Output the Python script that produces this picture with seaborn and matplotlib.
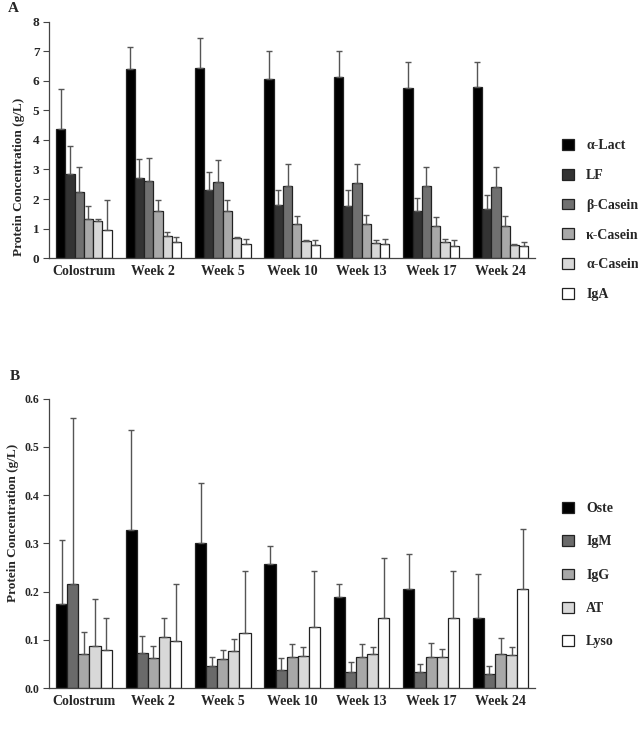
import numpy as np
import pandas as pd
import matplotlib
matplotlib.use("Agg")
import matplotlib.pyplot as plt
import seaborn as sns
from matplotlib.patches import Patch

# ---------------- data ----------------
timepoints = ["Colostrum", "Week 2", "Week 5", "Week 10", "Week 13", "Week 17", "Week 24"]

proteins_a = ["α-Lact", "LF", "β-Casein", "κ-Casein", "α-Casein", "IgA"]
a_lact = [4.38, 6.40, 6.45, 6.05, 6.12, 5.75, 5.78]
a_lact_err = [1.34, 0.75, 1.00, 0.95, 0.88, 0.88, 0.87]
lf = [2.86, 2.72, 2.30, 1.80, 1.78, 1.60, 1.65]
lf_err = [0.94, 0.65, 0.62, 0.52, 0.52, 0.45, 0.50]
b_casein = [2.25, 2.60, 2.58, 2.45, 2.55, 2.45, 2.42]
b_casein_err = [0.85, 0.78, 0.74, 0.72, 0.65, 0.63, 0.68]
k_casein = [1.32, 1.60, 1.60, 1.15, 1.17, 1.07, 1.07]
k_casein_err = [0.45, 0.38, 0.38, 0.28, 0.28, 0.31, 0.36]
a_casein = [1.27, 0.75, 0.68, 0.58, 0.52, 0.55, 0.45]
a_casein_err = [0.04, 0.13, 0.03, 0.03, 0.10, 0.08, 0.04]
iga = [0.95, 0.55, 0.47, 0.45, 0.47, 0.40, 0.42]
iga_err = [1.00, 0.17, 0.18, 0.15, 0.18, 0.20, 0.14]

proteins_b = ["Oste", "IgM", "IgG", "AT", "Lyso"]
oste = [0.175, 0.327, 0.300, 0.257, 0.188, 0.205, 0.145]
oste_err = [0.133, 0.208, 0.126, 0.038, 0.029, 0.073, 0.091]
igm = [0.217, 0.072, 0.045, 0.038, 0.034, 0.033, 0.030]
igm_err = [0.343, 0.036, 0.019, 0.025, 0.021, 0.017, 0.017]
igg = [0.070, 0.062, 0.060, 0.064, 0.064, 0.064, 0.071]
igg_err = [0.047, 0.025, 0.020, 0.028, 0.028, 0.029, 0.034]
at = [0.087, 0.106, 0.078, 0.066, 0.070, 0.064, 0.068]
at_err = [0.098, 0.039, 0.024, 0.020, 0.015, 0.018, 0.017]
lyso = [0.080, 0.097, 0.114, 0.127, 0.145, 0.145, 0.205]
lyso_err = [0.066, 0.118, 0.128, 0.116, 0.125, 0.098, 0.125]

colors_a = ["#000000", "#333333", "#707070", "#a8a8a8", "#d8d8d8", "#ffffff"]
colors_b = ["#000000", "#6a6a6a", "#a8a8a8", "#d8d8d8", "#ffffff"]

vals_a = [a_lact, lf, b_casein, k_casein, a_casein, iga]
errs_a = [a_lact_err, lf_err, b_casein_err, k_casein_err, a_casein_err, iga_err]
vals_b = [oste, igm, igg, at, lyso]
errs_b = [oste_err, igm_err, igg_err, at_err, lyso_err]


def long_df(names, vals):
    rows = []
    for n, v in zip(names, vals):
        for t, x in zip(timepoints, v):
            rows.append({"Time": t, "Protein": n, "Value": x})
    return pd.DataFrame(rows)


sns.set_style("white")
plt.rcParams["font.family"] = ["Liberation Serif", "DejaVu Serif"]
plt.rcParams["font.weight"] = "bold"

fig = plt.figure(figsize=(6.38, 7.29), dpi=100)
axA = fig.add_axes([0.077, 0.646, 0.762, 0.324])
axB = fig.add_axes([0.077, 0.056, 0.762, 0.397])


def draw(ax, names, vals, errs, colors, ymax, yticks, ytl, label_x, label_y, ytsize):
    df = long_df(names, vals)
    sns.barplot(data=df, x="Time", y="Value", hue="Protein", order=timepoints,
                hue_order=names, palette=colors, edgecolor="#222222",
                linewidth=0.9, width=0.8, errorbar=None, legend=False, ax=ax)
    for cont, err in zip(ax.containers, errs):
        xs = [p.get_x() + p.get_width() / 2 for p in cont.patches]
        hs = [p.get_height() for p in cont.patches]
        ax.errorbar(xs, hs, yerr=[np.zeros(len(err)), err], fmt="none",
                    ecolor="#555555", elinewidth=1.0, capsize=2.2, capthick=1.0)
    ax.set_ylim(0, ymax)
    ax.set_xlim(-0.5, len(timepoints) - 0.5)
    ax.set_yticks(yticks)
    ax.set_yticklabels(ytl, fontsize=ytsize, fontweight="bold")
    ax.set_xticks(range(len(timepoints)))
    ax.set_xticklabels(timepoints, fontsize=10, fontweight="bold")
    ax.set_xticks(np.arange(-0.5, len(timepoints)), minor=True)
    ax.tick_params(axis="x", which="major", length=0, pad=5)
    ax.tick_params(axis="x", which="minor", length=4, width=0.8, color="#444444", direction="out")
    ax.tick_params(axis="y", length=4, width=0.8, color="#444444", direction="out", left=True, pad=3)
    ax.set_xlabel("")
    ax.set_ylabel("Protein Concentration (g/L)", fontsize=9.5, fontweight="bold")
    ax.yaxis.set_label_coords(label_x, label_y)
    for s in ["top", "right"]:
        ax.spines[s].set_visible(False)
    for s in ["left", "bottom"]:
        ax.spines[s].set_color("#444444")
        ax.spines[s].set_linewidth(0.9)


draw(axA, proteins_a, vals_a, errs_a, colors_a, 8,
     list(range(9)), [str(i) for i in range(9)], -0.05, 0.345, 9.5)
draw(axB, proteins_b, vals_b, errs_b, colors_b, 0.6,
     [0.0, 0.1, 0.2, 0.3, 0.4, 0.5, 0.6],
     ["0.0", "0.1", "0.2", "0.3", "0.4", "0.5", "0.6"], -0.062, 0.57, 8.5)

hA = [Patch(facecolor=c, edgecolor="#222222", linewidth=0.9) for c in colors_a]
fig.legend(hA, proteins_a, loc="center left", bbox_to_anchor=(0.862, 0.698),
           frameon=False, labelspacing=1.2, handlelength=0.8,
           handleheight=0.8, handletextpad=0.9, prop={"weight": "bold", "size": 10})
hB = [Patch(facecolor=c, edgecolor="#222222", linewidth=0.9) for c in colors_b]
fig.legend(hB, proteins_b, loc="center left", bbox_to_anchor=(0.862, 0.211),
           frameon=False, labelspacing=1.45, handlelength=0.8,
           handleheight=0.8, handletextpad=0.9, prop={"weight": "bold", "size": 10})

fig.text(0.012, 0.988, "A", fontsize=11, fontweight="bold", va="center")
fig.text(0.015, 0.483, "B", fontsize=11, fontweight="bold", va="center")

fig.savefig("out.png", dpi=100)
